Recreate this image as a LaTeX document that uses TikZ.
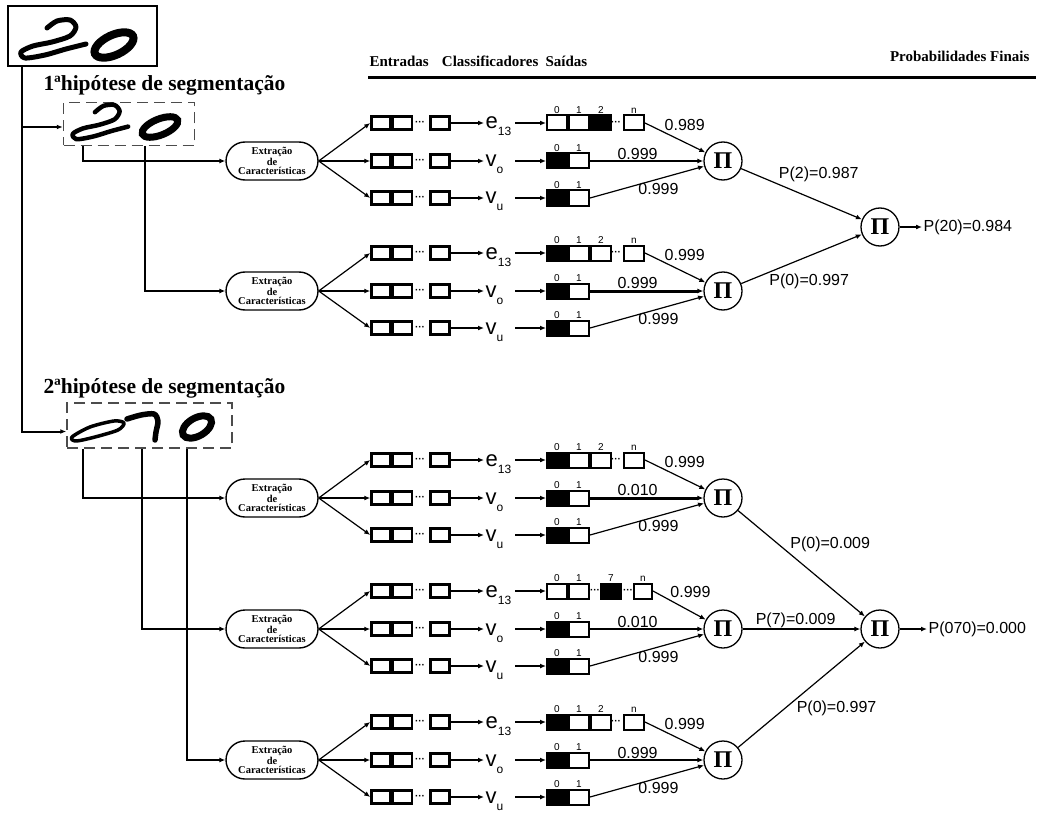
\documentclass[tikz,border=0pt]{standalone}
\usepackage{fontspec}
\setmainfont{Liberation Serif}
\newfontfamily\arial{Liberation Sans}
\usetikzlibrary{arrows.meta,positioning,shapes.misc}

\newcommand{\varsub}[2]{#1\raisebox{-7pt}{\fontsize{12}{12}\selectfont#2}}
\newcommand{\prodsym}{\textbf{Π}}

% linha de entradas: #1 nome, #2 y, #3 variavel
\newcommand{\entrada}[3]{%
  \node[ent] (#1a) at (381,#2) {};
  \node[ent,right=0pt of #1a] (#1b) {};
  \node[pts] at (420,#2) {···};
  \node[ent] (#1c) at (440,#2) {};
  \node[var,anchor=base west] (#1l) at (484,#2+6) {#3};
  \draw[seta] (#1c) -- (#1l.west |- #1c);
}
% saida binaria: #1 linha, #2 y
\newcommand{\saidaV}[2]{%
  \node[saicheia] (#10) at (557,#2) {};
  \node[sai,right=0pt of #10] (#11) {};
  \node[classe,above=0pt of #10] {0};
  \node[classe,above=0pt of #11] {1};
  \draw[seta] (#1l.east |- #1c) -- (#10);
}
% saida de e13: #1 grupo, #2 y, #3-#5 estilos das classes 0,1,2, #6 prob.
\newcommand{\saidaE}[6]{%
  \node[#3] (#1e0) at (557,#2) {};
  \node[#4,right=0pt of #1e0] (#1e1) {};
  \node[#5,right=0pt of #1e1] (#1e2) {};
  \node[pts] at (616,#2) {···};
  \node[sai] (#1en) at (634,#2) {};
  \node[classe,above=0pt of #1e0] {0};
  \node[classe,above=0pt of #1e1] {1};
  \node[classe,above=0pt of #1e2] {2};
  \node[classe,above=0pt of #1en] {n};
  \draw[seta] (#1el.east |- #1ec) -- (#1e0);
  \draw[fio] (#1en.east) -- node[prob,above right=0pt,pos=.3]{#6} (#1p);
}
% grupo: #1 nome, #2 y central, #3 prob. v_o, #4 prob. v_u, #5 espessura v_o
\newcommand{\grupo}[5]{%
  \node[extr] (#1x) at (272,#2) {Extração\\de\\Características};
  \entrada{#1e}{#2-38}{\varsub{e}{13}}
  \entrada{#1o}{#2}{\varsub{v}{o}}
  \entrada{#1u}{#2+37}{\varsub{v}{u}}
  \draw[fio] (#1x.east) -- (#1ea.west);
  \draw[fio] (#1x.east) -- (#1oa.west);
  \draw[fio] (#1x.east) -- (#1ua.west);
  \node[prod] (#1p) at (723,#2) {\prodsym};
  \saidaV{#1o}{#2}
  \saidaV{#1u}{#2+37}
  \draw[fio,line width=#5] (#1o1) -- node[prob,above,pos=.42]{#3} (#1p);
  \draw[fio] (#1u1.east) -- node[prob,below=3pt,pos=.6]{#4} (#1p);
}

\begin{document}
\begin{tikzpicture}[x=1pt,y=-1pt,line width=1.2pt,>={Latex[length=6pt,width=5pt]},
  cab/.style={font=\fontsize{15}{15}\selectfont\bfseries,inner sep=0pt},
  hip/.style={font=\fontsize{21.5}{21.5}\selectfont\bfseries,inner sep=0pt},
  foto/.style={draw,line width=2pt,minimum width=149pt,minimum height=60pt},
  corte/.style={draw=black!70,line width=1.5pt,dash pattern=on 11pt off 6pt},
  extr/.style={draw,rounded rectangle,line width=1.4pt,minimum width=92pt,minimum height=38pt,
    inner sep=0pt,align=center,font=\fontsize{10.5}{9}\selectfont\bfseries},
  ent/.style={draw,line width=2.5pt,minimum width=19pt,minimum height=13pt,inner sep=0pt},
  sai/.style={draw,line width=2pt,minimum width=20pt,minimum height=15pt,inner sep=0pt},
  saicheia/.style={sai,fill=black},
  pts/.style={font=\arial\fontsize{10}{10}\selectfont\bfseries,inner sep=0pt},
  var/.style={font=\arial\fontsize{22}{22}\selectfont,inner sep=1pt,text width=28pt,align=left},
  classe/.style={font=\arial\fontsize{10}{10}\selectfont,inner sep=.5pt},
  prob/.style={font=\arial\fontsize{16}{16}\selectfont,inner sep=1pt},
  prod/.style={draw,circle,line width=1.3pt,minimum size=38pt,inner sep=0pt,font=\fontsize{24}{24}\selectfont},
  tinta/.style={line width=4.5pt,line cap=round,line join=round},
  seta/.style={->,line width=2pt},
  fio/.style={->,line width=1.2pt}]
  \useasboundingbox (0,0) rectangle (1038,813);
  % cabecalho
  \node[cab,anchor=base west] (c1) at (369,67) {Entradas};
  \node[cab,anchor=base west] (c2) at ([xshift=12pt]c1.base east) {Classificadores};
  \node[cab,anchor=base west] (c3) at ([xshift=6pt]c2.base east) {Saídas};
  \node[cab,anchor=base east] (c4) at (1030,62) {Probabilidades Finais};
  \draw[line width=3pt] (368,78) -- (1036,78);
  % imagem original
  \node[foto] (orig) at (82.5,36) {};
  \draw[tinta,line width=5pt] plot[smooth] coordinates {(47,28) (57,21) (70,20) (76,27) (70,36) (52,42) (33,46) (21,52) (25,58) (45,55) (66,49) (86,44)};
  \draw[line width=8pt] (114,45) ellipse[x radius=21,y radius=10,rotate=25];
  % hipoteses
  \node[hip,anchor=west] (t1) at (43,85) {1ªhipótese de segmentação};
  \node[hip,anchor=west] (t2) at (43,388) {2ªhipótese de segmentação};
  \node[corte,minimum width=131pt,minimum height=43pt] (h1) at (129,124) {};
  \node[corte,minimum width=165pt,minimum height=45pt] (h2) at (149.5,425.5) {};
  \begin{scope}[shift={(55,87)},xscale=.85,yscale=.9]
    \draw[tinta] plot[smooth] coordinates {(47,28) (57,21) (70,20) (76,27) (70,36) (52,42) (33,46) (21,52) (25,58) (45,55) (66,49) (86,44)};
  \end{scope}
  \draw[line width=7pt] (160,127) ellipse[x radius=19,y radius=8,rotate=22];
  \draw[tinta,line width=3.5pt] plot[smooth cycle] coordinates {(72,437) (90,427) (114,421) (124,423) (118,430) (95,437) (76,441)};
  \draw[tinta,line width=5.5pt] plot[smooth] coordinates {(127,419) (141,415) (154,414) (158,421) (156,432) (155,440)};
  \draw[line width=7pt] (197,427) ellipse[x radius=16,y radius=9,rotate=30];
  \coordinate (tronco) at (22,66);
  \draw[fio,line width=2pt] (tronco) |- ([yshift=-3pt]h1.west);
  \draw[fio,line width=2pt] (tronco) |- ([yshift=-6pt]h2.west);
  % 1a hipotese
  \grupo{a1}{161}{0.999}{0.999}{1.2pt}
  \saidaE{a1}{123}{sai}{sai}{saicheia}{0.989}
  \grupo{a2}{291}{0.999}{0.999}{3pt}
  \saidaE{a2}{253}{saicheia}{sai}{sai}{0.999}
  \coordinate (s1) at (83,146);
  \coordinate (s2) at (145,146);
  \draw[fio,line width=2pt] (s1) |- (a1x);
  \draw[fio,line width=2pt] (s2) |- (a2x);
  \node[prod] (fa) at (880,227) {\prodsym};
  \draw[fio] (a1p) -- node[prob,above right=0pt,pos=.3]{P(2)=0.987} (fa);
  \draw[fio] (a2p) -- node[prob,below right=0pt,pos=.22]{P(0)=0.997} (fa);
  \node[prob,anchor=west] (ra) at (922,227) {P(20)=0.984};
  \draw[seta] (fa) -- (ra);
  % 2a hipotese
  \grupo{b1}{498}{0.010}{0.999}{3pt}
  \saidaE{b1}{460}{saicheia}{sai}{sai}{0.999}
  \grupo{b2}{629}{0.010}{0.999}{1.2pt}
  \node[sai] (b2e0) at (557,591) {};
  \node[sai,right=0pt of b2e0] (b2e1) {};
  \node[pts] at (595,591) {···};
  \node[saicheia] (b2e7) at (611,591) {};
  \node[pts] at (628,591) {···};
  \node[sai,minimum width=18pt] (b2en) at (643,591) {};
  \node[classe,above=0pt of b2e0] {0};
  \node[classe,above=0pt of b2e1] {1};
  \node[classe,above=0pt of b2e7] {7};
  \node[classe,above=0pt of b2en] {n};
  \draw[seta] (b2el.east |- b2ec) -- (b2e0);
  \draw[fio] (b2en.east) -- node[prob,above right=0pt,pos=.3]{0.999} (b2p);
  \grupo{b3}{760}{0.999}{0.999}{1.2pt}
  \saidaE{b3}{722}{saicheia}{sai}{sai}{0.999}
  \coordinate (u1) at (83,449);
  \coordinate (u2) at (142,449);
  \coordinate (u3) at (187,449);
  \draw[fio,line width=2pt] (u1) |- (b1x);
  \draw[fio,line width=2pt] (u2) |- (b2x);
  \draw[fio,line width=2pt] (u3) |- (b3x);
  \node[prod] (fb) at (880,629) {\prodsym};
  \draw[fio] (b1p) -- node[prob,above right=0pt,pos=.4]{P(0)=0.009} (fb);
  \draw[fio] (b2p) -- node[prob,above,pos=.45]{P(7)=0.009} (fb);
  \draw[fio] (b3p) -- node[prob,below right=0pt,pos=.45]{P(0)=0.997} (fb);
  \node[prob,anchor=west] (rb) at (927,629) {P(070)=0.000};
  \draw[seta] (fb) -- (rb);
\end{tikzpicture}
\end{document}
